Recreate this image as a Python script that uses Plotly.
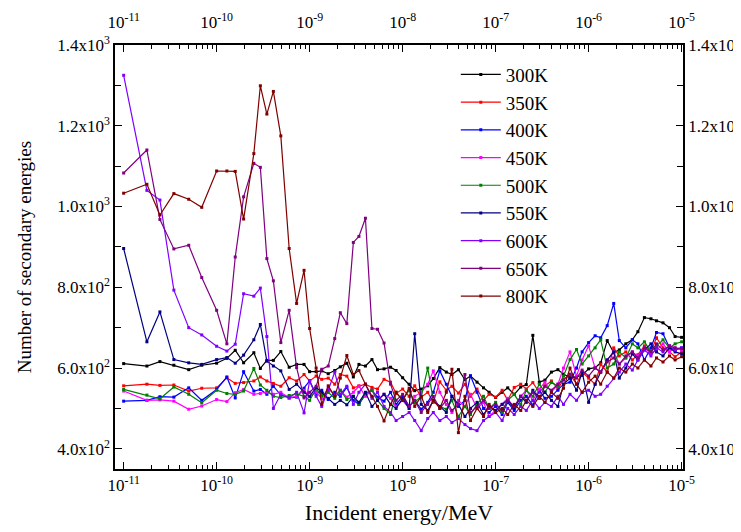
import plotly.graph_objects as go

# x grid: log10 of incident energy (MeV)
E_EXP = [-11.0, -10.75, -10.61, -10.46, -10.30, -10.16, -10.0, -9.89, -9.80, -9.71,
         -9.60, -9.53, -9.46, -9.39, -9.31, -9.22, -9.14, -9.06,
         -9.0, -8.93, -8.87, -8.8, -8.73, -8.67, -8.6, -8.53, -8.47, -8.4, -8.33, -8.27, -8.2, -8.13, -8.07,
         -8.0, -7.93, -7.87, -7.8, -7.73, -7.67, -7.6, -7.53, -7.47, -7.4, -7.33, -7.27, -7.2, -7.13, -7.07,
         -7.0, -6.93, -6.87, -6.8, -6.73, -6.67, -6.6, -6.53, -6.47, -6.4, -6.33, -6.27, -6.2, -6.13, -6.07,
         -6.0, -5.93, -5.87, -5.8, -5.73, -5.67, -5.6, -5.53, -5.47, -5.4, -5.33, -5.27, -5.2, -5.13, -5.07,
         -5.0]

y300 = [611, 605, 616, 607, 596, 607, 612, 624, 644, 613, 638, 599, 619, 619, 641, 602, 609, 609,
        591, 591, 593, 586, 594, 603, 612, 578, 609, 605, 621, 596, 598, 602, 594,
        576, 560, 544, 548, 556, 574, 601, 590, 584, 596, 571, 580, 565, 551, 540,
        527, 540, 551, 535, 553, 559, 681, 565, 570, 590, 596, 585, 576, 578, 582,
        598, 601, 613, 668, 638, 645, 660, 670, 690, 725, 722, 717, 712, 700, 678,
        676]
y350 = [556, 560, 557, 558, 543, 550, 551, 576, 562, 564, 568, 578, 568, 562, 555, 576, 568, 584,
        568, 580, 572, 575, 560, 584, 580, 551, 556, 560, 552, 548, 572, 565, 537,
        548, 530, 556, 528, 540, 515, 566, 545, 555, 538, 560, 530, 548, 520, 535,
        528, 545, 520, 552, 560, 548, 564, 540, 556, 568, 548, 572, 584, 560, 590,
        575, 560, 610, 590, 650, 630, 640, 620, 633, 655, 640, 675, 650, 640, 628,
        640]
y400 = [518, 520, 529, 528, 551, 520, 547, 578, 526, 591, 543, 547, 535, 555, 533, 526, 528, 550,
        568, 535, 545, 522, 540, 530, 552, 520, 510, 535, 545, 528, 518, 540, 510,
        530, 505, 520, 498, 515, 540, 593, 560, 530, 505, 520, 581, 540, 500, 490,
        505, 485, 515, 495, 520, 530, 508, 545, 525, 530, 545, 560, 565, 600, 640,
        663, 680, 675, 705, 760, 668, 650, 670, 660, 620, 650, 688, 685, 650, 645,
        650]
y450 = [543, 520, 521, 518, 498, 506, 522, 517, 539, 547, 535, 537, 540, 535, 540, 526, 530, 545,
        530, 540, 525, 550, 532, 545, 528, 540, 555, 530, 545, 520, 535, 525, 505,
        520, 500, 530, 540, 560, 593, 540, 510, 490, 520, 505, 535, 500, 515, 480,
        495, 510, 525, 500, 530, 545, 520, 548, 565, 540, 560, 600, 640, 580, 620,
        655, 600, 590, 620, 640, 610, 625, 640, 630, 650, 635, 645, 660, 640, 650,
        645]
y500 = [547, 533, 524, 553, 535, 514, 545, 537, 535, 543, 599, 558, 545, 530, 527, 532, 536, 530,
        520, 548, 532, 540, 525, 545, 522, 530, 510, 538, 545, 520, 500, 485, 540,
        520, 545, 515, 530, 600, 520, 505, 498, 520, 480, 505, 485, 510, 530, 500,
        515, 490, 520, 535, 510, 545, 530, 560, 540, 565, 555, 580, 621, 646, 610,
        630, 650, 670, 600, 610, 640, 625, 660, 650, 665, 640, 655, 670, 650, 660,
        665]
y550 = [896, 665, 739, 621, 613, 609, 621, 626, 612, 632, 670, 708, 617, 605, 593, 547, 560, 540,
        530, 552, 540, 525, 510, 520, 509, 530, 515, 540, 505, 520, 535, 510, 500,
        525, 500, 685, 510, 495, 520, 505, 490, 530, 510, 480, 500, 515, 485, 505,
        495, 510, 520, 500, 530, 515, 545, 525, 540, 520, 505, 560, 575, 545, 590,
        515, 560, 590, 620, 640, 575, 600, 635, 620, 645, 660, 640, 630, 650, 640,
        635]
y600 = [1325, 1040, 1016, 793, 700, 682, 654, 642, 659, 784, 778, 798, 678, 500, 535, 526, 540, 489,
        568, 530, 505, 545, 590, 535, 555, 510, 540, 560, 525, 540, 505, 490, 470,
        480, 490, 470, 445, 475, 490, 470, 480, 465, 475, 460, 450, 445, 470, 480,
        490, 470, 500, 485, 505, 495, 520, 500, 515, 505, 530, 510, 535, 520, 540,
        545, 530, 535, 555, 575, 590, 610, 595, 620, 645, 630, 650, 640, 655, 645,
        650]
y650 = [1083, 1140, 968, 895, 904, 824, 743, 660, 875, 1024, 1107, 1097, 871, 816, 663, 743, 601, 526,
        540, 555, 597, 605, 673, 737, 710, 911, 926, 971, 698, 696, 662, 560, 520,
        535, 505, 520, 490, 510, 530, 500, 520, 495, 510, 584, 490, 505, 520, 500,
        510, 495, 520, 505, 530, 520, 540, 525, 555, 545, 560, 570, 585, 575, 595,
        580, 600, 590, 615, 625, 610, 630, 640, 625, 650, 640, 660, 645, 655, 650,
        648]
y800 = [1033, 1055, 979, 1032, 1018, 998, 1088, 1088, 1087, 969, 1131, 1299, 1229, 1285, 1175, 896, 760, 842,
        698, 600, 510, 556, 530, 575, 631, 584, 594, 560, 530, 505, 469, 510, 540,
        520, 550, 505, 530, 490, 520, 500, 540, 597, 440, 530, 470, 500, 480, 510,
        490, 500, 485, 510, 495, 520, 505, 530, 515, 540, 525, 550, 600, 560, 540,
        565, 580, 560, 590, 575, 600, 590, 610, 600, 620, 605, 625, 615, 630, 620,
        628]

SERIES = ["300K", "350K", "400K", "450K", "500K", "550K", "600K", "650K", "800K"]
VALUES = [y300, y350, y400, y450, y500, y550, y600, y650, y800]
COLORS = ["#000000", "#FF0000", "#0000FF", "#FF00FF", "#008000",
          "#000080", "#8000FF", "#800080", "#800000"]

X_TICK_EXP = [-11, -10, -9, -8, -7, -6, -5]
Y_TICKS = [400, 600, 800, 1000, 1200, 1400]
Y_TICK_TEXT = ["4.0x10<sup>2</sup>", "6.0x10<sup>2</sup>", "8.0x10<sup>2</sup>",
               "1.0x10<sup>3</sup>", "1.2x10<sup>3</sup>", "1.4x10<sup>3</sup>"]

x = [10 ** e for e in E_EXP]
xtickvals = [10 ** e for e in X_TICK_EXP]
xticktext = ["10<sup>%d</sup>" % e for e in X_TICK_EXP]
xminor = [m * 10 ** e for e in X_TICK_EXP[:-1] for m in range(2, 10)]

FONT = "Liberation Serif, Times New Roman, serif"

fig = go.Figure()
for name, vals, col in zip(SERIES, VALUES, COLORS):
    fig.add_trace(go.Scatter(
        x=x, y=vals, name=name, mode="lines+markers",
        line=dict(color=col, width=1.2),
        marker=dict(color=col, size=3, symbol="square"),
    ))

# dummy trace to activate the mirrored top/right axes
fig.add_trace(go.Scatter(x=[1e-8], y=[800], xaxis="x2", yaxis="y2",
                         mode="markers", marker=dict(opacity=0),
                         showlegend=False, hoverinfo="skip"))

xrange = [-11.093, -4.985]
yrange = [350, 1400]

axis_common = dict(showline=True, linecolor="black", linewidth=1.5,
                   showgrid=False, zeroline=False, ticks="inside",
                   tickcolor="black", tickwidth=1.2, automargin=False)
xfont = dict(family=FONT, size=17, color="black")
yfont = dict(family=FONT, size=17, color="black")

fig.update_layout(
    width=741, height=532,
    margin=dict(l=107, r=66, t=37, b=71),
    paper_bgcolor="white", plot_bgcolor="white",
    font=dict(family=FONT, color="black"),
    xaxis=dict(type="log", range=xrange, tickvals=xtickvals, ticktext=xticktext,
               ticklen=7, tickfont=xfont,
               minor=dict(tickvals=xminor, ticks="inside", ticklen=4, tickcolor="black"),
               title=dict(text="Incident energy/MeV", font=dict(family=FONT, size=22), standoff=10),
               **axis_common),
    xaxis2=dict(type="log", range=xrange, overlaying="x", side="top", anchor="y",
                tickvals=xtickvals, ticktext=xticktext, ticklen=7, tickfont=xfont,
                ticklabelstandoff=8,
                minor=dict(tickvals=xminor, ticks="inside", ticklen=4, tickcolor="black"),
                **axis_common),
    yaxis=dict(range=yrange, tickvals=Y_TICKS, ticktext=Y_TICK_TEXT, ticklen=7, tickfont=yfont,
               minor=dict(dtick=100, tick0=300, ticks="inside", ticklen=6, tickcolor="black"),
               title=dict(text="Number of secondary energies", font=dict(family=FONT, size=19), standoff=20),
               **axis_common),
    yaxis2=dict(range=yrange, overlaying="y", side="right", anchor="x",
                tickvals=Y_TICKS, ticktext=Y_TICK_TEXT, ticklen=7, tickfont=yfont,
                minor=dict(dtick=100, tick0=300, ticks="inside", ticklen=6, tickcolor="black"),
                **axis_common),
    legend=dict(x=0.600, y=0.975, xanchor="left", yanchor="top",
                bgcolor="rgba(0,0,0,0)", borderwidth=0,
                font=dict(family=FONT, size=19, color="black"),
                tracegroupgap=0, itemwidth=40),
    showlegend=True,
)

fig.write_html("out.html")
